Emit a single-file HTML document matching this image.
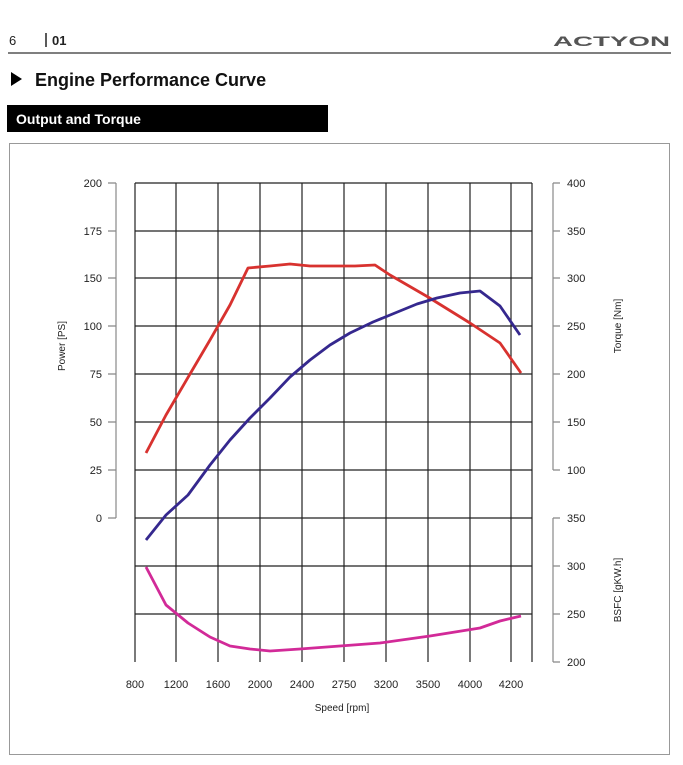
<!DOCTYPE html>
<html><head><style>
body{margin:0;background:#fff;width:683px;height:760px;overflow:hidden;font-family:"Liberation Sans",sans-serif}
</style></head><body>
<svg width="683" height="760" xmlns="http://www.w3.org/2000/svg" font-family="Liberation Sans, sans-serif">
<text x="9" y="45" font-size="13" fill="#222">6</text>
<line x1="46" y1="33" x2="46" y2="47" stroke="#222" stroke-width="1.5"/>
<text x="52" y="45" font-size="13" font-weight="bold" fill="#222">01</text>
<text x="553" y="46" font-size="14" font-weight="900" fill="#555" textLength="117" lengthAdjust="spacingAndGlyphs">ACTYON</text>
<line x1="8" y1="53" x2="671" y2="53" stroke="#555" stroke-width="1.5"/>
<polygon points="11,72 11,86 22,79" fill="#000"/>
<text x="35" y="86" font-size="18" font-weight="bold" fill="#111">Engine Performance Curve</text>
<rect x="7" y="105" width="321" height="27" fill="#000"/>
<text x="16" y="124" font-size="14" font-weight="bold" fill="#fff">Output and Torque</text>
<rect x="9.5" y="143.5" width="660" height="611" fill="none" stroke="#999"/>
<g stroke="#222" stroke-width="1.2">
<line x1="135" y1="183" x2="135" y2="662"/><line x1="176" y1="183" x2="176" y2="662"/><line x1="218" y1="183" x2="218" y2="662"/><line x1="260" y1="183" x2="260" y2="662"/><line x1="302" y1="183" x2="302" y2="662"/><line x1="344" y1="183" x2="344" y2="662"/><line x1="386" y1="183" x2="386" y2="662"/><line x1="428" y1="183" x2="428" y2="662"/><line x1="470" y1="183" x2="470" y2="662"/><line x1="511" y1="183" x2="511" y2="662"/><line x1="532" y1="183" x2="532" y2="662"/>
<line x1="135" y1="183" x2="532" y2="183"/><line x1="135" y1="231" x2="532" y2="231"/><line x1="135" y1="278" x2="532" y2="278"/><line x1="135" y1="326" x2="532" y2="326"/><line x1="135" y1="374" x2="532" y2="374"/><line x1="135" y1="422" x2="532" y2="422"/><line x1="135" y1="470" x2="532" y2="470"/><line x1="135" y1="518" x2="532" y2="518"/><line x1="135" y1="566" x2="532" y2="566"/><line x1="135" y1="614" x2="532" y2="614"/>
</g>
<g stroke="#888" stroke-width="1.2" fill="none">
<line x1="116" y1="183" x2="116" y2="518"/>
<path d="M108 183H116M108 231H116M108 278H116M108 326H116M108 374H116M108 422H116M108 470H116M108 518H116"/>
<line x1="553" y1="183" x2="553" y2="470"/>
<path d="M553 183H560M553 231H560M553 278H560M553 326H560M553 374H560M553 422H560M553 470H560"/>
<line x1="553" y1="518" x2="553" y2="662"/>
<path d="M553 518H560M553 566H560M553 614H560M553 662H560"/>
</g>
<g font-size="11" fill="#222" text-anchor="end">
<text x="102" y="187">200</text><text x="102" y="235">175</text><text x="102" y="282">150</text><text x="102" y="330">100</text><text x="102" y="378">75</text><text x="102" y="426">50</text><text x="102" y="474">25</text><text x="102" y="522">0</text>
</g>
<g font-size="11" fill="#222">
<text x="567" y="187">400</text><text x="567" y="235">350</text><text x="567" y="282">300</text><text x="567" y="330">250</text><text x="567" y="378">200</text><text x="567" y="426">150</text><text x="567" y="474">100</text>
<text x="567" y="522">350</text><text x="567" y="570">300</text><text x="567" y="618">250</text><text x="567" y="666">200</text>
</g>
<g font-size="11" fill="#222" text-anchor="middle">
<text x="135" y="688">800</text><text x="176" y="688">1200</text><text x="218" y="688">1600</text><text x="260" y="688">2000</text><text x="302" y="688">2400</text><text x="344" y="688">2750</text><text x="386" y="688">3200</text><text x="428" y="688">3500</text><text x="470" y="688">4000</text><text x="511" y="688">4200</text>
<text x="342" y="711" font-size="10">Speed [rpm]</text>
</g>
<text transform="translate(65,346) rotate(-90)" font-size="10" text-anchor="middle" fill="#222">Power [PS]</text>
<text transform="translate(621,326) rotate(-90)" font-size="10" text-anchor="middle" fill="#222">Torque [Nm]</text>
<text transform="translate(621,590) rotate(-90)" font-size="10" text-anchor="middle" fill="#222">BSFC [gKW.h]</text>
<g fill="none" stroke-width="2.8" stroke-linejoin="round">
<polyline stroke="#d8322f" points="146,453 166,415 190,374 210,340 230,305 248,268 270,266 290,264 310,266 330,266 355,266 375,265 390,275 428,297 470,323 500,343 521,373"/>
<polyline stroke="#35288e" points="146,540 166,515 188,495 210,465 230,440 250,418 270,398 290,377 310,360 330,345 350,333 373,322 395,313 417,304 437,298 460,293 480,291 500,306 520,335"/>
<polyline stroke="#d22a98" points="146,567 166,605 188,623 210,637 230,646 250,649 270,651 300,649 340,646 380,643 430,636 480,628 500,621 521,616"/>
</g>
</svg>
</body></html>
